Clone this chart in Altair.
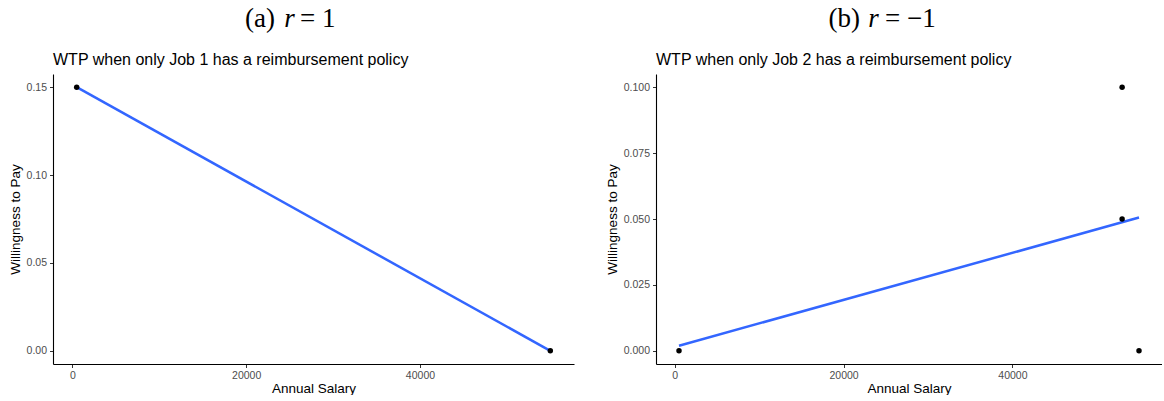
import altair as alt
import pandas as pd

# Scatter data for each scenario
salary_a = [500, 55000]
wtp_a = [0.15, 0.0]

salary_b = [500, 53000, 53000, 55000]
wtp_b = [0.0, 0.1, 0.05, 0.0]

# Axis ticks
x_ticks = [0, 20000, 40000]
y_ticks_a = [0.0, 0.05, 0.10, 0.15]
y_ticks_b = [0.0, 0.025, 0.05, 0.075, 0.10]

# Panel texts
subtitle_a = "WTP when only Job 1 has a reimbursement policy"
subtitle_b = "WTP when only Job 2 has a reimbursement policy"
heading_a = ["(a)", "r", "= 1"]
heading_b = ["(b)", "r", "= \u22121"]

X_DOMAIN = [-2225, 57725]
LINE_BLUE = "#3366FF"
SANS = "Liberation Sans"
SERIF = "Liberation Serif"


def text_layer(txt, x, y, size, font, align="left", style="normal", color="black"):
    return (
        alt.Chart(pd.DataFrame({"t": [txt]}))
        .mark_text(align=align, baseline="alphabetic", fontSize=size, font=font,
                   fontStyle=style, color=color)
        .encode(text="t:N", x=alt.value(x), y=alt.value(y))
    )


def panel(salary, wtp, yticks, yfmt, ydomain, width, subtitle, heading, hx):
    df = pd.DataFrame({"salary": salary, "wtp": wtp})
    x = alt.X("salary:Q", title="Annual Salary",
              scale=alt.Scale(domain=X_DOMAIN, nice=False, zero=False),
              axis=alt.Axis(values=x_ticks, format="d"))
    y = alt.Y("wtp:Q", title="Willingness to Pay",
              scale=alt.Scale(domain=ydomain, nice=False, zero=False),
              axis=alt.Axis(values=yticks, format=yfmt))
    pts = alt.Chart(df).mark_circle(color="black", size=30, opacity=1).encode(x=x, y=y)
    fit = (
        alt.Chart(df)
        .transform_regression("salary", "wtp")
        .mark_line(color=LINE_BLUE, strokeWidth=2.5)
        .encode(x=x, y=y)
    )
    left_end, r_mid, right_start = hx
    texts = [
        text_layer(subtitle, 0, -9, 16, SANS),
        text_layer(heading[0], left_end, -47, 27, SERIF, align="right"),
        text_layer(heading[1], r_mid, -47, 27, SERIF, align="center", style="italic"),
        text_layer(heading[2], right_start, -47, 27, SERIF, align="left"),
    ]
    return alt.layer(fit, pts, *texts).properties(width=width, height=290)


left = panel(salary_a, wtp_a, y_ticks_a, ".2f", [-0.0075, 0.1575], 521,
             subtitle_a, heading_a, (222, 236.5, 247))
right = panel(salary_b, wtp_b, y_ticks_b, ".3f", [-0.005, 0.105], 506,
              subtitle_b, heading_b, (204, 217.5, 229))

chart = (
    alt.hconcat(left, right, spacing=31)
    .properties(padding={"left": 8, "top": 5, "right": 0, "bottom": 0})
    .configure_view(strokeWidth=0)
    .configure_axis(
        grid=False,
        domainColor="black",
        domainWidth=1.1,
        tickColor="#333333",
        tickSize=3.5,
        tickWidth=1,
        labelColor="#4D4D4D",
        labelFont=SANS,
        labelFontSize=10.5,
        labelPadding=3,
        titleFont=SANS,
        titleFontSize=13.5,
        titleFontWeight="normal",
        titleColor="black",
    )
    .configure_axisY(titlePadding=4)
    .configure_axisX(titlePadding=0)
)

chart.save("out.html", embed_options={"renderer": "svg", "actions": False})
